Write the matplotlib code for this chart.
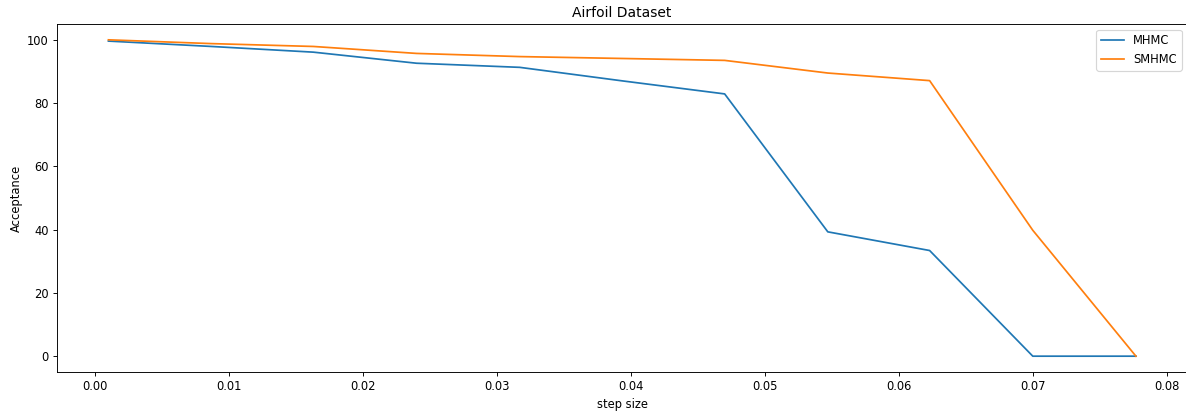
import numpy as np
import matplotlib
matplotlib.use('Agg')
import matplotlib.pyplot as plt

# step sizes (evenly spaced runs)
step_size = [0.001, 0.0087, 0.0163, 0.024, 0.0317, 0.0394,
             0.047, 0.0547, 0.0623, 0.07, 0.0777]

mhmc = [99.6, 97.9, 96.1, 92.6, 91.3, 87.0, 82.9, 39.3, 33.4, 0.0, 0.0]
smhmc = [100.0, 98.8, 97.9, 95.7, 94.7, 94.1, 93.5, 89.5, 87.1, 39.8, 0.0]

fig = plt.figure(figsize=(1186/83, 411/83), dpi=83)
ax = fig.add_axes([0.0481, 0.0949, 0.953, 0.8467])

ax.plot(step_size, mhmc, label='MHMC')
ax.plot(step_size, smhmc, label='SMHMC')

ax.set_title('Airfoil Dataset')
ax.set_xlabel('step size')
ax.set_ylabel('Acceptance')
ax.legend()

fig.savefig('out.png', dpi=83)
